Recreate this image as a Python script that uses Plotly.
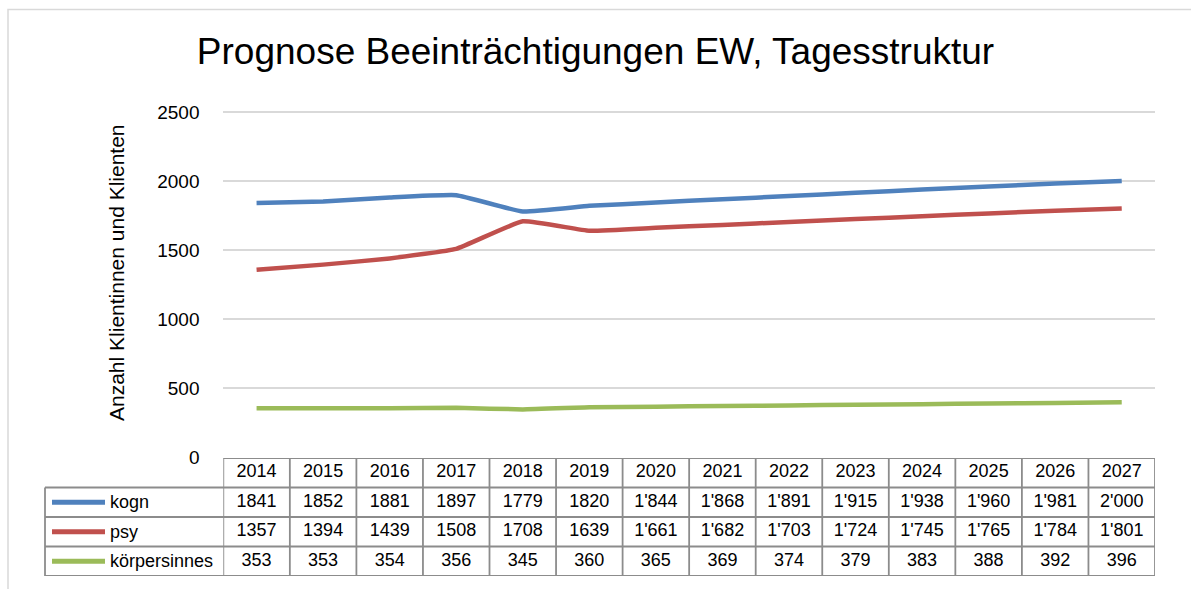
import plotly.graph_objects as go

W, H = 1191, 589

years = [2014, 2015, 2016, 2017, 2018, 2019, 2020, 2021, 2022, 2023, 2024, 2025, 2026, 2027]
series_names = ["kogn", "psy", "körpersinnes"]
kogn = [1841, 1852, 1881, 1897, 1779, 1820, 1844, 1868, 1891, 1915, 1938, 1960, 1981, 2000]
psy = [1357, 1394, 1439, 1508, 1708, 1639, 1661, 1682, 1703, 1724, 1745, 1765, 1784, 1801]
koerpersinnes = [353, 353, 354, 356, 345, 360, 365, 369, 374, 379, 383, 388, 392, 396]
colors = ["#4F81BD", "#C0504D", "#9BBB59"]
y_ticks = [0, 500, 1000, 1500, 2000, 2500]

title = "Prognose Beeinträchtigungen EW, Tagesstruktur"
y_title = "Anzahl Klientinnen und Klienten"

FONT = "Liberation Sans, Arial, sans-serif"
GRID = "#d9d9d9"
TBL = "#8c8c8c"

def px_x(p):
    return p / W

def px_y(p):
    return 1 - p / H

def fmt(v, yr):
    if yr >= 2020 and v >= 1000:
        return f"{v:,}".replace(",", "'")
    return str(v)

# plot area: value 0 at pixel 457, value y_ticks[-1] at pixel 112;
# range extended slightly so the top gridline is not dropped at the edge
y_max = y_ticks[-1] * 1.01
y0_px, ytop_px = 457, 112
top_px = y0_px - (y0_px - ytop_px) * y_max / y_ticks[-1]

x_dom = [px_x(223.3), px_x(1155)]
y_dom = [px_y(y0_px), px_y(top_px)]
tbl_dom = [px_y(576), px_y(458)]

all_series = [kogn, psy, koerpersinnes]

fig = go.Figure()

for name, vals, c in zip(series_names, all_series, colors):
    fig.add_trace(go.Scatter(
        x=years, y=vals, mode="lines", name=name,
        line=dict(color=c, width=4.5, shape="spline", smoothing=0.35),
        xaxis="x", yaxis="y", hoverinfo="skip", showlegend=False,
    ))

# table header (years)
fig.add_trace(go.Scatter(
    x=years, y=[0.5] * len(years), mode="text",
    text=[str(y) for y in years],
    textfont=dict(family=FONT, size=18, color="#000000"),
    xaxis="x", yaxis="y2", cliponaxis=False, hoverinfo="skip", showlegend=False,
))
# table values
for r, vals in enumerate(all_series):
    fig.add_trace(go.Scatter(
        x=years, y=[r + 1.5] * len(years), mode="text",
        text=[fmt(v, yr) for v, yr in zip(vals, years)],
        textfont=dict(family=FONT, size=18, color="#000000"),
        xaxis="x", yaxis="y2", cliponaxis=False, hoverinfo="skip", showlegend=False,
    ))

shapes = []
# outer chart border
shapes.append(dict(type="rect", xref="paper", yref="paper",
                   x0=px_x(8), x1=1.05, y0=-0.05, y1=px_y(9.5),
                   line=dict(color=GRID, width=1.5), layer="below"))
# table vertical lines
edges = [years[0] - 0.5] + [y + 0.5 for y in years]
for e in edges:
    shapes.append(dict(type="line", xref="x", yref="y2", x0=e, x1=e, y0=0, y1=4,
                       line=dict(color=TBL, width=1.8)))
# header top line
shapes.append(dict(type="line", xref="x", yref="y2", x0=edges[0], x1=edges[-1], y0=0, y1=0,
                   line=dict(color=TBL, width=1.8)))
# row lines incl. legend column
for r in range(1, 5):
    shapes.append(dict(type="line", xref="paper", yref="y2", x0=px_x(45), x1=x_dom[1], y0=r, y1=r,
                       line=dict(color=TBL, width=1.8)))
shapes.append(dict(type="line", xref="paper", yref="y2", x0=px_x(45), x1=px_x(45), y0=1, y1=4,
                   line=dict(color=TBL, width=1.8)))
# legend keys
for r, c in enumerate(colors):
    shapes.append(dict(type="line", xref="paper", yref="y2", x0=px_x(52), x1=px_x(105),
                       y0=r + 1.5, y1=r + 1.5, line=dict(color=c, width=5)))

annotations = []
for r, name in enumerate(series_names):
    annotations.append(dict(text=name, xref="paper", yref="y2", x=px_x(108), y=r + 1.5,
                            xanchor="left", yanchor="middle", showarrow=False,
                            font=dict(family=FONT, size=18, color="#000000")))
annotations.append(dict(text=y_title, xref="paper", yref="paper", x=px_x(116), y=px_y(273),
                        xanchor="center", yanchor="middle", textangle=-90, showarrow=False,
                        font=dict(family=FONT, size=21, color="#000000")))

fig.update_layout(
    template="none",
    width=W, height=H, autosize=False,
    margin=dict(l=0, r=0, t=0, b=0, pad=0, autoexpand=False),
    paper_bgcolor="white", plot_bgcolor="white",
    font=dict(family=FONT, size=18, color="#000000"),
    title=dict(text=title, x=0.5, xanchor="center", xref="paper",
               y=px_y(51), yanchor="middle", yref="container", automargin=False,
               font=dict(family=FONT, size=37, color="#000000")),
    xaxis=dict(domain=x_dom, range=[years[0] - 0.5, years[-1] + 0.5], visible=False,
               anchor="y", fixedrange=True, automargin=False),
    yaxis=dict(domain=y_dom, range=[0, y_max], tickvals=y_ticks, showgrid=True,
               gridcolor=GRID, gridwidth=1.5, zeroline=False, showline=False,
               ticks="outside", ticklen=19, tickcolor="rgba(0,0,0,0)", automargin=False,
               tickfont=dict(family=FONT, size=19, color="#000000"), fixedrange=True),
    yaxis2=dict(domain=tbl_dom, range=[4, 0], visible=False, anchor="x",
                fixedrange=True, automargin=False),
    shapes=shapes,
    annotations=annotations,
)

fig.write_html(
    "out.html",
    config={"displayModeBar": False},
    post_script=(
        "document.documentElement.style.margin='0';"
        "document.documentElement.style.padding='0';"
        "document.documentElement.style.overflow='hidden';"
        "document.body.style.margin='0';"
        "document.body.style.padding='0';"
        "document.body.style.overflow='hidden';"
    ),
)
